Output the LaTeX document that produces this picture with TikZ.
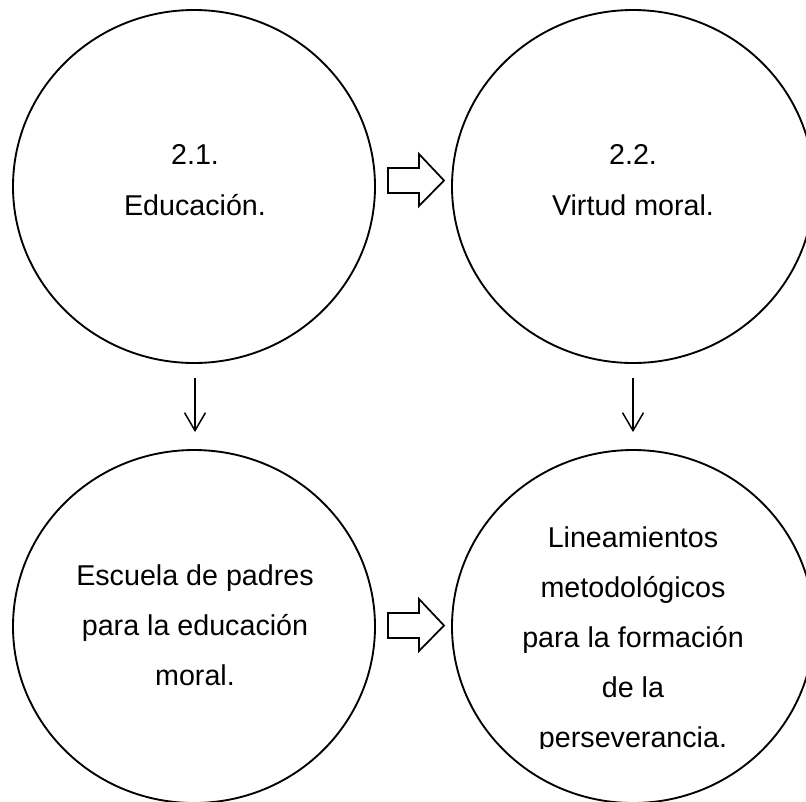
\documentclass[tikz,border=0pt]{standalone}
\usepackage{fontspec}
\setmainfont{Liberation Sans}
\usetikzlibrary{shapes.geometric,arrows.meta}
\begin{document}
\begin{tikzpicture}[x=0.75pt,y=-0.75pt,
  circ/.style={draw=black,line width=1.4pt,ellipse,inner sep=0pt,
    minimum width=271.5pt,minimum height=264.75pt},
  lbl/.style={anchor=base,inner sep=0pt,font=\fontsize{21.5pt}{25pt}\selectfont},
  downarr/.style={line width=1.1pt,-{Straight Barb[length=13.5pt,width=15.75pt,line width=1.1pt]}},
  hollow/.style={draw=black,line width=1.3pt,line join=miter,fill=white}]
\useasboundingbox (0,0) rectangle (806,801);
\clip (0,0) rectangle (806,801);
% circles
\node[circ] (c1) at (194,186.5) {};
\node[circ] (c2) at (633,186.5) {};
\node[circ] (c3) at (194,626.5) {};
\node[circ] (c4) at (633,626.5) {};
% texts
\node[lbl] (t11) at (195,164) {2.1.};
\node[lbl] (t12) at (195,215) {Educación.};
\node[lbl] (t21) at (633,164) {2.2.};
\node[lbl] (t22) at (633,215) {Virtud moral.};
\node[lbl] (t31) at (195,585) {Escuela de padres};
\node[lbl] (t32) at (195,635) {para la educación};
\node[lbl] (t33) at (195,685) {moral.};
\node[lbl] (t41) at (633,547) {Lineamientos};
\node[lbl] (t42) at (633,597) {metodológicos};
\node[lbl] (t43) at (633,647) {para la formación};
\node[lbl] (t44) at (633,697) {de la};
\begin{scope}
\clip (450,700) rectangle (806,748.5);
\node[lbl] (t45) at (633,747) {perseverancia.};
\end{scope}
% down arrows
\draw[downarr,shorten <=10.5pt,shorten >=12.75pt] ([xshift=0.75pt]c1.south) -- ([xshift=0.75pt]c3.north);
\draw[downarr,shorten <=10.5pt,shorten >=12.75pt] (c2.south) -- (c4.north);
% hollow block arrows
\coordinate (h1) at (388,180.5);
\coordinate (h2) at (388,625.5);
\foreach \h in {h1,h2}{
  \draw[hollow] (\h) ++(0,-12.5) -- ++(31,0) -- ++(0,-14) -- ++(25,26.5) -- ++(-25,25.5) -- ++(0,-13) -- ++(-31,0) -- cycle;
}
\end{tikzpicture}
\end{document}
